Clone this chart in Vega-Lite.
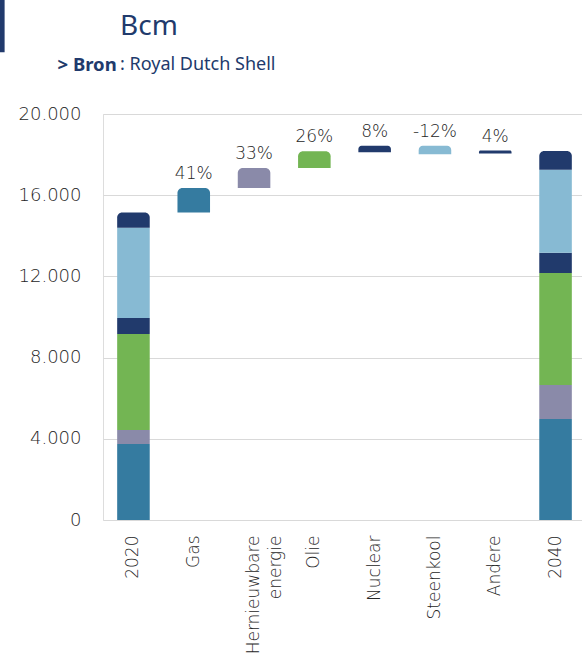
{
  "$schema": "https://vega.github.io/schema/vega-lite/v6.json",
  "autosize": "none",
  "padding": {"left": 103, "top": 114, "right": 0, "bottom": 135},
  "width": 479,
  "height": 406,
  "background": "white",
  "title": {
    "text": "Bcm",
    "subtitle": ": Royal Dutch Shell",
    "anchor": "start",
    "frame": "group",
    "dx": 17,
    "offset": 0,
    "dy": 74,
    "font": "Noto Sans",
    "fontSize": 28,
    "fontWeight": "normal",
    "color": "#213A6C",
    "subtitleFont": "Noto Sans",
    "subtitleFontSize": 18,
    "subtitleColor": "#213A6C",
    "subtitlePadding": 15
  },
  "data": {
    "values": [
      {"cat": "2020", "comp": "Gas", "lo": 0, "hi": 3750, "top": false},
      {"cat": "2020", "comp": "Hernieuwbare energie", "lo": 3750, "hi": 4430, "top": false},
      {"cat": "2020", "comp": "Olie", "lo": 4430, "hi": 9160, "top": false},
      {"cat": "2020", "comp": "Nuclear", "lo": 9160, "hi": 9950, "top": false},
      {"cat": "2020", "comp": "Steenkool", "lo": 9950, "hi": 14400, "top": false},
      {"cat": "2020", "comp": "Andere", "lo": 14400, "hi": 15150, "top": true},
      {"cat": "Gas", "comp": "Gas", "lo": 15150, "hi": 16350, "top": true, "label": "41%"},
      {"cat": "Hernieuwbare energie", "comp": "Hernieuwbare energie", "lo": 16350, "hi": 17340, "top": true, "label": "33%"},
      {"cat": "Olie", "comp": "Olie", "lo": 17340, "hi": 18170, "top": true, "label": "26%"},
      {"cat": "Nuclear", "comp": "Nuclear", "lo": 18120, "hi": 18430, "top": true, "label": "8%"},
      {"cat": "Steenkool", "comp": "Steenkool", "lo": 18020, "hi": 18430, "top": true, "label": "-12%"},
      {"cat": "Andere", "comp": "Andere", "lo": 18050, "hi": 18200, "top": true, "label": "4%"},
      {"cat": "2040", "comp": "Gas", "lo": 0, "hi": 4980, "top": false},
      {"cat": "2040", "comp": "Hernieuwbare energie", "lo": 4980, "hi": 6650, "top": false},
      {"cat": "2040", "comp": "Olie", "lo": 6650, "hi": 12170, "top": false},
      {"cat": "2040", "comp": "Nuclear", "lo": 12170, "hi": 13160, "top": false},
      {"cat": "2040", "comp": "Steenkool", "lo": 13160, "hi": 17250, "top": false},
      {"cat": "2040", "comp": "Andere", "lo": 17250, "hi": 18180, "top": true}
    ]
  },
  "encoding": {
    "x": {
      "field": "cat",
      "type": "nominal",
      "sort": ["2020", "Gas", "Hernieuwbare energie", "Olie", "Nuclear", "Steenkool", "Andere", "2040"],
      "scale": {"paddingInner": 0.46, "paddingOuter": 0.235, "range": [0, 483]},
      "axis": {
        "title": "▏",
        "titleX": -103,
        "titleY": -520,
        "titleAngle": 0,
        "titleAlign": "left",
        "titleBaseline": "top",
        "titleFont": "DejaVu Sans",
        "titleFontSize": 49,
        "titleFontWeight": "normal",
        "titleColor": "#213A6C",
        "labelAngle": -90,
        "labelAlign": "right",
        "labelBaseline": "middle",
        "labelPadding": 15,
        "labelFont": "DejaVu Sans",
        "labelFontSize": 17,
        "labelFontWeight": 300,
        "labelColor": "#262626",
        "labelLineHeight": 22,
        "labelExpr": "datum.value == 'Hernieuwbare energie' ? ['Hernieuwbare', 'energie'] : datum.value",
        "ticks": false,
        "domain": false,
        "grid": false
      }
    }
  },
  "layer": [
    {
      "transform": [{"filter": "!datum.top"}],
      "mark": {"type": "bar"},
      "encoding": {
        "y": {
          "field": "lo",
          "type": "quantitative",
          "scale": {"domain": [0, 20000], "nice": false},
          "axis": {
            "title": "> Bron",
            "titleX": -46,
            "titleY": -44,
            "titleAngle": 0,
            "titleAlign": "left",
            "titleBaseline": "alphabetic",
            "titleFont": "Noto Sans",
            "titleFontSize": 18.5,
            "titleFontWeight": "bold",
            "titleColor": "#213A6C",
            "values": [0, 4000, 8000, 12000, 16000, 20000],
            "labelExpr": "replace(format(datum.value, ','), ',', '.')",
            "labelFont": "DejaVu Sans",
            "labelFontSize": 18,
            "labelFontWeight": 300,
            "labelColor": "#262626",
            "labelPadding": 22,
            "ticks": false,
            "domain": false,
            "grid": true,
            "gridColor": "#D9D9D9",
            "gridWidth": 1.2
          }
        },
        "y2": {"field": "hi"},
        "color": {
          "field": "comp",
          "type": "nominal",
          "scale": {
            "domain": ["Gas", "Hernieuwbare energie", "Olie", "Nuclear", "Steenkool", "Andere"],
            "range": ["#357BA0", "#8A8AA9", "#73B553", "#213A6C", "#87BAD3", "#213A6C"]
          },
          "legend": null
        }
      }
    },
    {
      "transform": [{"filter": "datum.top"}],
      "mark": {"type": "bar", "cornerRadiusTopLeft": 5, "cornerRadiusTopRight": 5},
      "encoding": {
        "y": {"field": "lo", "type": "quantitative"},
        "y2": {"field": "hi"},
        "color": {"field": "comp", "type": "nominal", "legend": null}
      }
    },
    {
      "transform": [{"filter": "datum.label != null"}],
      "mark": {"type": "text", "font": "DejaVu Sans", "fontSize": 17, "fontWeight": 300, "color": "#262626", "baseline": "alphabetic", "align": "center", "dy": -9},
      "encoding": {
        "y": {"field": "hi", "type": "quantitative"},
        "text": {"field": "label"}
      }
    }
  ]
}
